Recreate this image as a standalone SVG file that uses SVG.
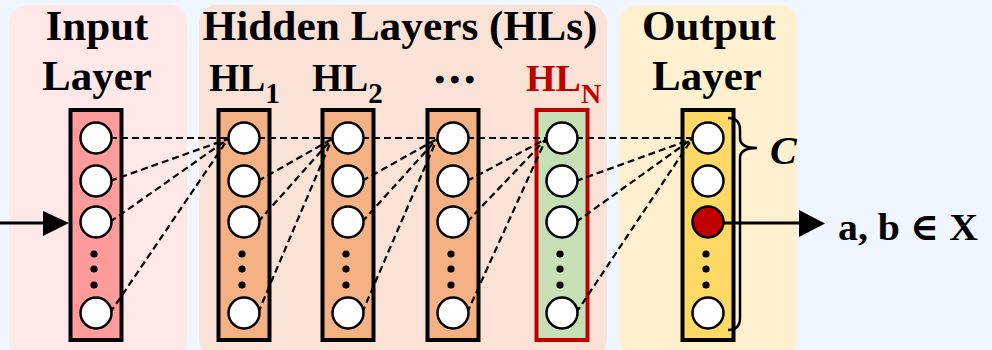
<svg xmlns="http://www.w3.org/2000/svg" width="992" height="350" viewBox="0 0 992 350">
<style>
.t{font-family:"Liberation Serif","DejaVu Serif",serif;font-weight:bold;fill:#000}
.col{stroke:#000;stroke-width:4}
.n{fill:#fff;stroke:#000;stroke-width:2.5}
.d{fill:#000}
.dash{stroke:#000;stroke-width:2.2;stroke-dasharray:7 4;fill:none}
</style>
<rect x="0" y="0" width="992" height="350" fill="#EFF6FF"/>
<rect x="9" y="5" width="178" height="352" rx="18" fill="#FFE8E8"/>
<rect x="199" y="5" width="408" height="352" rx="18" fill="#FAE3D6"/>
<rect x="619" y="5" width="178" height="352" rx="18" fill="#FFF1CF"/>
<text class="t" x="97" y="40" font-size="43" text-anchor="middle">Input</text>
<text class="t" x="97" y="90" font-size="43" text-anchor="middle">Layer</text>
<text class="t" x="400" y="40" font-size="42" text-anchor="middle" textLength="395" lengthAdjust="spacingAndGlyphs">Hidden Layers (HLs)</text>
<text class="t" x="709" y="40" font-size="43" text-anchor="middle">Output</text>
<text class="t" x="707" y="90" font-size="43" text-anchor="middle">Layer</text>
<text class="t" x="209" y="91" font-size="39">HL<tspan font-size="29" dy="12">1</tspan></text>
<text class="t" x="312" y="91" font-size="39">HL<tspan font-size="29" dy="12">2</tspan></text>
<text class="t" x="436" y="82" font-size="30" letter-spacing="7.5" stroke="#000" stroke-width="3">...</text>
<text class="t" x="526" y="91" font-size="38" style="fill:#C00000">HL<tspan font-size="28" dy="12">N</tspan></text>
<g id="input-layer">
<rect class="col" x="70.5" y="110" width="51" height="230" fill="#FF9B9B"/>
</g>
<g id="hl1"><rect class="col" x="218.5" y="110" width="51" height="230" fill="#F4B183"/></g>
<g id="hl2"><rect class="col" x="322.5" y="110" width="51" height="230" fill="#F4B183"/></g>
<g id="hl3"><rect class="col" x="427.5" y="110" width="51" height="230" fill="#F4B183"/></g>
<g id="hln"><rect x="536.5" y="110" width="51" height="230" fill="#C5E0B4" stroke="#C00000" stroke-width="4"/></g>
<g id="output-layer-col"><rect class="col" x="682.5" y="110" width="51" height="230" fill="#FFD966"/></g>
<g id="connectors">
<line class="dash" x1="110" y1="138" x2="228" y2="138"/>
<line class="dash" x1="110" y1="181" x2="228" y2="139"/>
<line class="dash" x1="110" y1="222" x2="228" y2="139"/>
<line class="dash" x1="110" y1="313" x2="228" y2="139"/>
<line class="dash" x1="258" y1="138" x2="332" y2="138"/>
<line class="dash" x1="258" y1="181" x2="332" y2="139"/>
<line class="dash" x1="258" y1="222" x2="332" y2="139"/>
<line class="dash" x1="258" y1="313" x2="332" y2="139"/>
<line class="dash" x1="362" y1="138" x2="437" y2="138"/>
<line class="dash" x1="362" y1="181" x2="437" y2="139"/>
<line class="dash" x1="362" y1="222" x2="437" y2="139"/>
<line class="dash" x1="362" y1="313" x2="437" y2="139"/>
<line class="dash" x1="467" y1="138" x2="546" y2="138"/>
<line class="dash" x1="467" y1="181" x2="546" y2="139"/>
<line class="dash" x1="467" y1="222" x2="546" y2="139"/>
<line class="dash" x1="467" y1="313" x2="546" y2="139"/>
<line class="dash" x1="576" y1="138" x2="692" y2="138"/>
<line class="dash" x1="576" y1="181" x2="692" y2="139"/>
<line class="dash" x1="576" y1="222" x2="692" y2="139"/>
<line class="dash" x1="576" y1="313" x2="692" y2="139"/>
<line x1="0" y1="223" x2="46" y2="223" stroke="#000" stroke-width="3"/>
<polygon points="43,211 69,223 43,236" fill="#000"/>
<line x1="708" y1="223" x2="802" y2="223" stroke="#000" stroke-width="3"/>
<polygon points="799,210 825,223.5 799,237" fill="#000"/>
<path d="M728,118 Q740,118 740,130 L740,138 Q740,148 757,148 Q740,148 740,158 L740,318 Q740,330 728,330" fill="none" stroke="#000" stroke-width="2.5"/>
</g>
<g id="input-nodes">
<circle class="n" cx="96" cy="138" r="15.5"/><circle class="n" cx="96" cy="181" r="15.5"/><circle class="n" cx="96" cy="222" r="15.5"/>
<circle class="d" cx="94" cy="254" r="3.6"/><circle class="d" cx="94" cy="269" r="3.6"/><circle class="d" cx="94" cy="285" r="3.6"/>
<circle class="n" cx="96" cy="313" r="15.5"/>
</g>
<g id="hl1-nodes">
<circle class="n" cx="244" cy="138" r="15.5"/><circle class="n" cx="244" cy="181" r="15.5"/><circle class="n" cx="244" cy="222" r="15.5"/>
<circle class="d" cx="242" cy="254" r="3.6"/><circle class="d" cx="242" cy="269" r="3.6"/><circle class="d" cx="242" cy="285" r="3.6"/>
<circle class="n" cx="244" cy="313" r="15.5"/>
</g>
<g id="hl2-nodes">
<circle class="n" cx="348" cy="138" r="15.5"/><circle class="n" cx="348" cy="181" r="15.5"/><circle class="n" cx="348" cy="222" r="15.5"/>
<circle class="d" cx="346" cy="254" r="3.6"/><circle class="d" cx="346" cy="269" r="3.6"/><circle class="d" cx="346" cy="285" r="3.6"/>
<circle class="n" cx="348" cy="313" r="15.5"/>
</g>
<g id="hl3-nodes">
<circle class="n" cx="453" cy="138" r="15.5"/><circle class="n" cx="453" cy="181" r="15.5"/><circle class="n" cx="453" cy="222" r="15.5"/>
<circle class="d" cx="451" cy="254" r="3.6"/><circle class="d" cx="451" cy="269" r="3.6"/><circle class="d" cx="451" cy="285" r="3.6"/>
<circle class="n" cx="453" cy="313" r="15.5"/>
</g>
<g id="hln-nodes">
<circle class="n" cx="562" cy="138" r="15.5"/><circle class="n" cx="562" cy="181" r="15.5"/><circle class="n" cx="562" cy="222" r="15.5"/>
<circle class="d" cx="560" cy="254" r="3.6"/><circle class="d" cx="560" cy="269" r="3.6"/><circle class="d" cx="560" cy="285" r="3.6"/>
<circle class="n" cx="562" cy="313" r="15.5"/>
</g>
<g id="output-nodes">
<circle class="n" cx="708" cy="138" r="15.5"/><circle class="n" cx="708" cy="181" r="15.5"/><circle class="n" cx="708" cy="222" r="15.5" style="fill:#C00000"/>
<circle class="d" cx="706" cy="254" r="3.6"/><circle class="d" cx="706" cy="269" r="3.6"/><circle class="d" cx="706" cy="285" r="3.6"/>
<circle class="n" cx="708" cy="313" r="15.5"/>
</g>
<text class="t" x="770" y="164" font-size="40" font-style="italic">C</text>
<text class="t" x="838" y="240" font-size="38" textLength="140" lengthAdjust="spacingAndGlyphs">a, b ∈ X</text>
</svg>
